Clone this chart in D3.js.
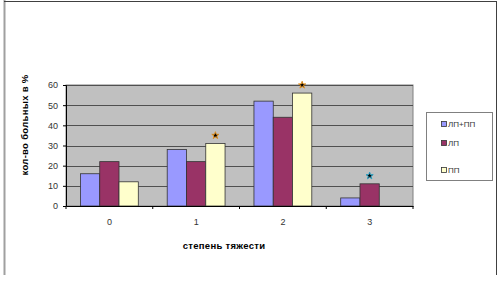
<!DOCTYPE html>
<html>
<head>
<meta charset="utf-8">
<script src="https://cdn.jsdelivr.net/npm/d3@7"></script>
<style>
  body { margin: 0; background: #fff; }
  svg { display: block; font-family: "Liberation Sans", Arial, sans-serif; }
</style>
</head>
<body>
<svg width="503" height="281"></svg>
<script>
// данные
var categories = ["0", "1", "2", "3"];
var seriesNames = ["ЛП+ПП", "ЛП", "ПП"];
var lpPp = [16, 28, 52, 4];
var lp = [22, 22, 44, 11];
var pp = [12, 31, 56, 0];
var yTicks = [0, 10, 20, 30, 40, 50, 60];
// звездочки: категория, серия
var stars = [[1, 2, "#e09020"], [2, 2, "#e09020"], [3, 1, "#30a0c0"]];

var colors = ["#9999ff", "#993366", "#ffffcc"];
var values = [lpPp, lp, pp];

var svg = d3.select("svg");
var plot = { left: 66, right: 413, top: 85, bottom: 206 };

// рамка
svg.append("line").attr("x1", 4.5).attr("x2", 4.5).attr("y1", 0).attr("y2", 275)
    .attr("stroke", "#a0a0a0").attr("stroke-width", 2);
svg.append("line").attr("x1", 4).attr("x2", 497).attr("y1", 1.5).attr("y2", 1.5)
    .attr("stroke", "#404040");
svg.append("line").attr("x1", 496.5).attr("x2", 496.5).attr("y1", 1).attr("y2", 275)
    .attr("stroke", "#404040");

var x = d3.scaleBand().domain(categories).range([plot.left, plot.right]).paddingInner(0).paddingOuter(0);
var xs = d3.scaleBand().domain(d3.range(3)).range([0, x.bandwidth()]).paddingInner(0).paddingOuter(0.75);
var y = d3.scaleLinear().domain([0, 60]).range([plot.bottom, plot.top]);

// фон
svg.append("rect").attr("x", plot.left).attr("y", plot.top)
    .attr("width", plot.right - plot.left).attr("height", plot.bottom - plot.top)
    .attr("fill", "#c0c0c0").attr("stroke", "#808080");

// сетка
svg.append("g").selectAll("line").data(yTicks.slice(1)).enter().append("line")
    .attr("x1", plot.left).attr("x2", plot.right)
    .attr("y1", function(d) { return Math.round(y(d)) + 0.5; })
    .attr("y2", function(d) { return Math.round(y(d)) + 0.5; })
    .attr("stroke", "#505050");

// столбцы
var groups = svg.append("g").selectAll("g").data(categories).enter().append("g")
    .attr("transform", function(d) { return "translate(" + x(d) + ",0)"; });
groups.selectAll("rect")
    .data(function(d, i) { return values.map(function(v, s) { return { s: s, v: v[i] }; }); })
    .enter().append("rect")
    .filter(function(d) { return d.v > 0; })
    .attr("x", function(d) { return xs(d.s); })
    .attr("y", function(d) { return y(d.v); })
    .attr("width", xs.bandwidth())
    .attr("height", function(d) { return y(0) - y(d.v); })
    .attr("fill", function(d) { return colors[d.s]; })
    .attr("stroke", "#333")
    .attr("stroke-width", 0.8);

// звездочки
svg.append("g").selectAll("path").data(stars).enter().append("path")
    .attr("d", d3.symbol().type(d3.symbolStar).size(16))
    .attr("transform", function(d) {
        var v = values[d[1]][d[0]];
        return "translate(" + (x(categories[d[0]]) + xs(d[1]) + xs.bandwidth() / 2) + "," + (y(v) - 8) + ")";
    })
    .attr("fill", "#000")
    .attr("stroke", function(d) { return d[2]; })
    .attr("stroke-width", 1);

// оси
var yAxis = svg.append("g").attr("transform", "translate(" + plot.left + ",0)")
    .call(d3.axisLeft(y).tickValues(yTicks).tickSize(3).tickPadding(5));
var xAxis = svg.append("g").attr("transform", "translate(0," + plot.bottom + ")")
    .call(d3.axisBottom(x).tickSize(0).tickPadding(13));
xAxis.selectAll(".tick").append("line")
    .attr("x1", -x.bandwidth() / 2).attr("x2", -x.bandwidth() / 2)
    .attr("y1", 0).attr("y2", 3).attr("stroke", "#000");
xAxis.append("line").attr("x1", plot.right).attr("x2", plot.right).attr("y1", 0).attr("y2", 3).attr("stroke", "#000");
[yAxis, xAxis].forEach(function(a) {
    a.select(".domain").attr("stroke", "#000");
    a.selectAll("text").attr("font-size", 9).attr("fill", "#333")
        .attr("font-family", "'Liberation Sans', Arial, sans-serif");
});

// подписи осей
svg.append("text").attr("transform", "translate(28,125) rotate(-90)")
    .attr("text-anchor", "middle").attr("font-size", 9.5).attr("font-weight", "bold")
    .attr("letter-spacing", 0.3)
    .text("кол-во больных в %");
svg.append("text").attr("x", 224).attr("y", 249)
    .attr("text-anchor", "middle").attr("font-size", 9.5).attr("font-weight", "bold")
    .attr("letter-spacing", 0.3)
    .text("степень тяжести");

// легенда
var legend = svg.append("g");
legend.append("rect").attr("x", 426.5).attr("y", 112.5).attr("width", 66).attr("height", 68)
    .attr("fill", "#fff").attr("stroke", "#808080");
var ly = [124, 143, 170];
var items = legend.selectAll("g.item").data(seriesNames).enter().append("g").attr("class", "item")
    .attr("transform", function(d, i) { return "translate(441," + ly[i] + ")"; });
items.append("rect").attr("x", 0.5).attr("y", -2.5).attr("width", 5).attr("height", 5)
    .attr("fill", function(d, i) { return colors[i]; }).attr("stroke", "#333").attr("stroke-width", 0.8);
items.append("text").attr("x", 7).attr("y", 3).attr("font-size", 8).attr("fill", "#333")
    .text(function(d) { return d; });
</script>
</body>
</html>
